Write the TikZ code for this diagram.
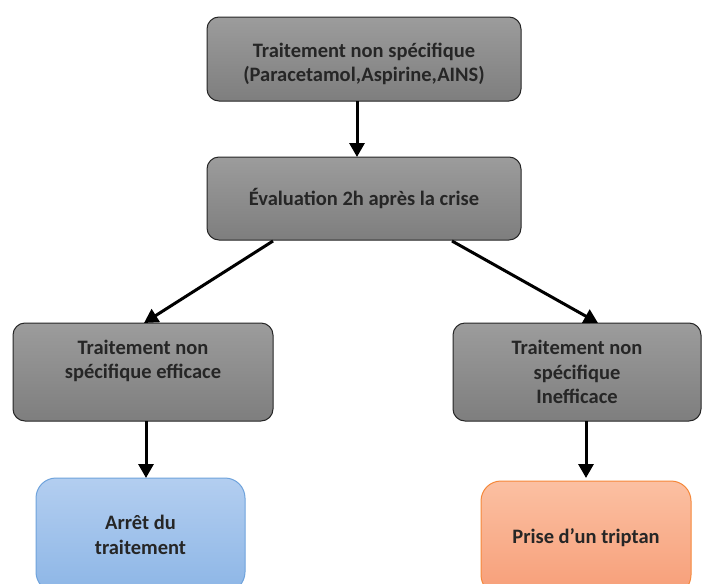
\documentclass[tikz,border=0pt]{standalone}
\usepackage{fontspec}
\setmainfont{Carlito}
\usetikzlibrary{arrows.meta}
\definecolor{gtop}{HTML}{9C9C9C}
\definecolor{gbot}{HTML}{7E7E7E}
\definecolor{btop}{HTML}{B3CEF0}
\definecolor{bbot}{HTML}{8DB6E6}
\definecolor{bdraw}{HTML}{6FA3DC}
\definecolor{otop}{HTML}{FBC0A2}
\definecolor{obot}{HTML}{F79E78}
\definecolor{odraw}{HTML}{F5883A}
\tikzset{
  txt/.style={align=center, font=\fontsize{20.5}{24.5}\selectfont\bfseries, text=black!85, inner sep=0pt},
  box/.style={txt, draw=black!85, line width=1pt, rounded corners=12pt, top color=gtop, bottom color=gbot},
  bluebox/.style={txt, draw=bdraw, line width=1pt, rounded corners=20pt, top color=btop, bottom color=bbot},
  orangebox/.style={txt, draw=odraw, line width=1pt, rounded corners=20pt, top color=otop, bottom color=obot},
  arr/.style={line width=3pt, -{Triangle[length=14pt,width=15pt]}},
}
\begin{document}
\begin{tikzpicture}[x=1pt,y=-1pt]
\useasboundingbox (0,0) rectangle (702,584);
\clip (0,0) rectangle (702,584);
\fill[white] (0,0) rectangle (702,584);
\node[box, minimum width=314pt, minimum height=84pt] (a) at (364,59) {\rule{0pt}{24pt}Traitement non spécifique\\(Paracetamol,Aspirine,AINS)};
\node[box, minimum width=314pt, minimum height=83pt] (b) at (364,198.5) {Évaluation 2h après la crise};
\node[box, minimum width=260pt, minimum height=98pt] (c) at (143,372) {Traitement non\\spécifique efficace\\[1pt]};
\node[box, minimum width=248pt, minimum height=98pt] (d) at (577,372) {Traitement non\\spécifique\\Inefficace};
\node[bluebox, minimum width=209pt, minimum height=114pt] (e) at (140.5,535) {Arrêt du\\traitement};
\node[orangebox, minimum width=210pt, minimum height=114pt] (f) at (586,538) {Prise d’un triptan};
\draw[arr] (357,101) -- (357,157);
\draw[arr] (273,241) -- (144,323);
\draw[arr] (452,241) -- (598,323);
\draw[arr] (146,421) -- (146,478);
\draw[arr] (586,421) -- (586,478);
\end{tikzpicture}
\end{document}
